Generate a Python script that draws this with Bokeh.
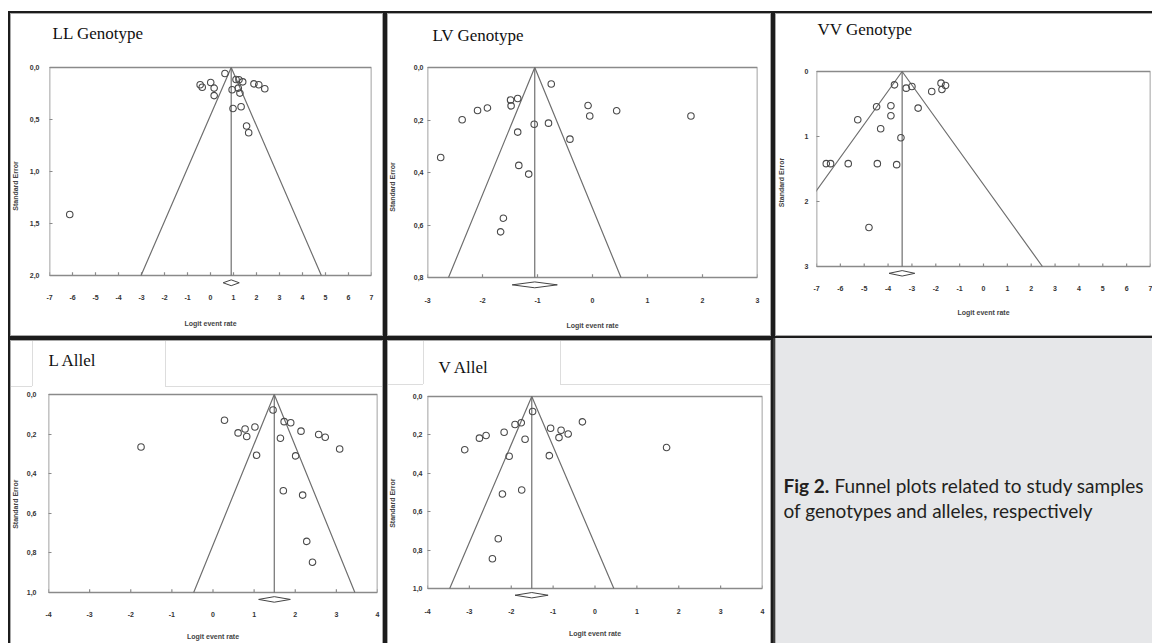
from bokeh.plotting import figure
from bokeh.layouts import row, column
from bokeh.models import Range1d, FixedTicker, Label
from bokeh.embed import file_html
from bokeh.resources import INLINE

# ---------------- data ----------------
# LL genotype
LL_logit = [0.63, -0.45, -0.36, 0.01, 0.16, 0.16, 0.94, 1.11, 1.24, 1.40,
            1.21, 1.28, 0.98, 1.33, 1.57, 1.66, 1.89, 2.10, 2.36, -6.12]
LL_se = [0.058, 0.166, 0.190, 0.144, 0.198, 0.270, 0.214, 0.115, 0.118, 0.138,
         0.198, 0.246, 0.394, 0.378, 0.563, 0.627, 0.157, 0.166, 0.205, 1.414]
LL_summary = 0.90
LL_ci = [0.55, 1.25]
LL_xticks = [-7, -6, -5, -4, -3, -2, -1, 0, 1, 2, 3, 4, 5, 6, 7]
LL_yticks = [0.0, 0.5, 1.0, 1.5, 2.0]
LL_ylabels = ["0,0", "0,5", "1,0", "1,5", "2,0"]

# LV genotype
LV_logit = [-0.75, -1.49, -1.48, -1.36, -2.09, -1.91, -2.37, -2.76, -1.36, -1.06,
            -0.80, -1.34, -1.16, -0.41, -0.08, -0.05, 0.44, 1.79, -1.62, -1.67]
LV_se = [0.063, 0.124, 0.146, 0.118, 0.164, 0.154, 0.199, 0.343, 0.246, 0.216,
         0.212, 0.373, 0.406, 0.273, 0.145, 0.185, 0.165, 0.185, 0.574, 0.626]
LV_summary = -1.05
LV_ci = [-1.46, -0.64]
LV_xticks = [-3, -2, -1, 0, 1, 2, 3]
LV_yticks = [0.0, 0.2, 0.4, 0.6, 0.8]
LV_ylabels = ["0,0", "0,2", "0,4", "0,6", "0,8"]

# VV genotype
VV_logit = [-3.73, -3.24, -3.00, -2.17, -1.78, -1.59, -1.74, -2.74, -4.48, -3.88,
            -3.88, -5.27, -4.31, -3.46, -6.59, -6.41, -5.67, -4.45, -3.64, -4.80]
VV_se = [0.205, 0.256, 0.230, 0.307, 0.179, 0.215, 0.276, 0.563, 0.543, 0.527,
         0.681, 0.742, 0.881, 1.019, 1.418, 1.418, 1.418, 1.418, 1.433, 2.400]
VV_summary = -3.41
VV_ci = [-3.96, -2.88]
VV_xticks = [-7, -6, -5, -4, -3, -2, -1, 0, 1, 2, 3, 4, 5, 6, 7]
VV_yticks = [0, 1, 2, 3]
VV_ylabels = ["0", "1", "2", "3"]

# L allele
L_logit = [1.46, 0.28, 0.61, 0.78, 0.82, 1.02, 1.06, 1.73, 1.89, 1.64,
           2.14, 2.01, 2.57, 2.73, 3.08, -1.75, 1.71, 2.18, 2.28, 2.42]
L_se = [0.078, 0.130, 0.194, 0.174, 0.212, 0.164, 0.307, 0.137, 0.143, 0.221,
        0.185, 0.310, 0.202, 0.216, 0.275, 0.265, 0.486, 0.508, 0.742, 0.847]
L_summary = 1.49
L_ci = [1.11, 1.88]
L_xticks = [-4, -3, -2, -1, 0, 1, 2, 3, 4]
L_yticks = [0.0, 0.2, 0.4, 0.6, 0.8, 1.0]
L_ylabels = ["0,0", "0,2", "0,4", "0,6", "0,8", "1,0"]

# V allele
V_logit = [-1.49, -0.30, -1.06, -0.81, -0.64, -0.86, -1.09, -1.76, -1.91, -2.17,
           -1.67, -2.60, -2.76, -3.11, -2.05, -2.21, -1.75, -2.31, -2.45, 1.71]
V_se = [0.078, 0.132, 0.165, 0.176, 0.195, 0.214, 0.308, 0.137, 0.146, 0.186,
        0.223, 0.203, 0.217, 0.277, 0.311, 0.508, 0.487, 0.741, 0.845, 0.266]
V_summary = -1.51
V_ci = [-1.91, -1.12]
V_xticks = [-4, -3, -2, -1, 0, 1, 2, 3, 4]
V_yticks = [0.0, 0.2, 0.4, 0.6, 0.8, 1.0]
V_ylabels = ["0,0", "0,2", "0,4", "0,6", "0,8", "1,0"]

TITLES = ["LL Genotype", "LV Genotype", "VV Genotype", "L Allel", "V Allel"]
X_LABEL = "Logit event rate"
Y_LABEL = "Standard Error"
CAPTION_BOLD = "Fig 2."
CAPTION_1 = "Funnel plots related to study samples"
CAPTION_2 = "of genotypes and alleles, respectively"

# ---------------- styling ----------------
Z = 1.96
FRAME_COL = "#8a8a8a"
FUNNEL_COL = "#6f6f6f"
PT_COL = "#4a4a4a"
BOTTOM_PAD_PX = 16      # room under the box for the summary diamond
SPACE_W = 0.278 * 7     # width of a space in 7px Liberation Sans Bold
NBSP = "\u00a0"


def edges(left=True, top=True, right=True, bottom=True, tab=None):
    dark, light = [], []
    for on, fmt in ((left, "inset {}px 0 0 0 {}"), (right, "inset -{}px 0 0 0 {}"),
                    (top, "inset 0 {}px 0 0 {}"), (bottom, "inset 0 -{}px 0 0 {}")):
        if on:
            dark.append(fmt.format(2, "#1c1c1c"))
            light.append(fmt.format(3, "#a8a8a8"))
    st = {"box-shadow": ", ".join(dark + light), "background-color": "white"}
    if tab is not None:
        # faint outline of the title tab (x0, x1, y, width)
        x0, x1, y, w = tab
        g = "linear-gradient(#dddddd, #dddddd)"
        st["background-image"] = ", ".join([g] * 4)
        st["background-position"] = f"0px {y}px, {x1}px {y}px, {x0}px 0px, {x1}px 0px"
        st["background-size"] = f"{x0}px 1px, {w - x1}px 1px, 1px {y}px, 1px {y}px"
        st["background-repeat"] = "no-repeat"
    return st


def funnel(title, xs, ses, summary, ci, xticks, yticks, ylabels, cfg):
    xmin, xmax = xticks[0], xticks[-1]
    se_max = yticks[-1]
    # pixel layout -> y range (frame reaches up to the panel top so the title sits inside)
    mt = 3
    fb = cfg["yse"] + BOTTOM_PAD_PX
    mb = cfg["h"] - fb
    ppu = (cfg["yse"] - cfg["y0"]) / se_max
    y_bottom = se_max + BOTTOM_PAD_PX / ppu
    y_top = -(cfg["y0"] - mt) / ppu
    p = figure(width=cfg["w"], height=cfg["h"], output_backend="svg",
               toolbar_location=None, title=None, frame_align=False,
               x_range=Range1d(xmin, xmax),
               y_range=Range1d(y_bottom, y_top),
               min_border_left=cfg["ml"], min_border_right=cfg["mr"],
               min_border_top=mt, min_border_bottom=mb)
    p.styles = cfg["styles"]
    p.background_fill_color = None
    p.border_fill_color = None
    p.outline_line_color = None
    p.xgrid.visible = False
    p.ygrid.visible = False

    # panel title
    p.add_layout(Label(x=xmin, y=-(cfg["y0"] - cfg["ty"]) / ppu, x_offset=cfg["toff"],
                       text=title, text_font="Liberation Serif", text_font_size="17px",
                       text_color="#111111", text_baseline="middle", text_align="left"))

    # plot box (axis limits)
    p.quad(left=[xmin], right=[xmax], top=[0], bottom=[se_max],
           fill_color=None, line_color=FRAME_COL, line_width=1.6)
    # x tick marks on the bottom of the box
    p.segment(x0=xticks, y0=[se_max] * len(xticks), x1=xticks,
              y1=[se_max * (1 - 0.016)] * len(xticks),
              line_color=FRAME_COL, line_width=1.2)

    # funnel
    p.line(x=[summary - Z * se_max, summary, summary + Z * se_max],
           y=[se_max, 0, se_max], line_color=FUNNEL_COL, line_width=1.2)
    p.line(x=[summary, summary], y=[0, se_max], line_color=FUNNEL_COL, line_width=1.2)

    # studies
    p.scatter(x=xs, y=ses, marker="circle", size=6.5, fill_color=None,
              line_color=PT_COL, line_width=1.1)

    # summary diamond
    yd = se_max * 1.035
    h = se_max * 0.014
    p.patch(x=[ci[0], summary, ci[1], summary], y=[yd, yd - h, yd, yd + h],
            fill_color="white", line_color="#444444", line_width=1.0)

    # axes
    xa = p.xaxis[0]
    xa.ticker = FixedTicker(ticks=xticks)
    xa.major_label_overrides = {t: str(t) for t in xticks}
    xa.axis_line_color = None
    xa.major_tick_line_color = None
    xa.major_tick_in = 0
    xa.major_tick_out = 0
    xa.minor_tick_line_color = None
    xa.minor_tick_in = 0
    xa.minor_tick_out = 0
    xa.major_label_standoff = cfg["xts"]
    xa.axis_label = X_LABEL
    xa.axis_label_standoff = cfg["xls"]

    # the y-axis label is centred on the (tall) frame; pad its end so the
    # visible words sit lower, next to the box as in the original
    frame_mid = (mt + fb) / 2.0
    n_pad = max(0, int(round(2 * (cfg["yc"] - frame_mid) / SPACE_W)))
    ya = p.yaxis[0]
    ya.ticker = FixedTicker(ticks=yticks)
    ya.major_label_overrides = dict(zip(yticks, ylabels))
    ya.axis_line_color = None
    ya.major_tick_in = 3
    ya.major_tick_out = 0
    ya.minor_tick_in = 0
    ya.minor_tick_out = 0
    ya.major_tick_line_color = FRAME_COL
    ya.minor_tick_line_color = None
    ya.major_label_standoff = cfg["yts"]
    ya.axis_label = Y_LABEL + NBSP * n_pad
    ya.axis_label_standoff = cfg["yls"]

    for ax in (xa, ya):
        ax.major_label_text_font = "Liberation Sans"
        ax.major_label_text_font_size = "7px"
        ax.major_label_text_font_style = "bold"
        ax.major_label_text_color = "#333333"
        ax.axis_label_text_font = "Liberation Sans"
        ax.axis_label_text_font_size = "7px"
        ax.axis_label_text_font_style = "bold"
        ax.axis_label_text_color = "#444444"
    return p


# layout in pixels (relative to each panel's top-left corner)
cfgs = [
    dict(w=377, h=327, ml=39, mr=14, y0=56, yse=264, ty=22, toff=3, yc=175,
         xts=3, xls=17, yts=10, yls=8, styles=edges()),
    dict(w=388, h=327, ml=41, mr=16, y0=56, yse=266, ty=24, toff=5, yc=176,
         xts=4, xls=16, yts=4, yls=15, styles=edges()),
    dict(w=379, h=327, ml=43, mr=2, y0=60, yse=255, ty=18, toff=1, yc=171,
         xts=3, xls=15, yts=8, yls=17, styles=edges(right=False)),
    dict(w=377, h=305, ml=40, mr=8, y0=56, yse=254, ty=22, toff=0, yc=166,
         xts=3, xls=13, yts=12, yls=5, styles=edges(bottom=False, tab=(24, 157, 48, 377))),
    dict(w=388, h=305, ml=41, mr=11, y0=58, yse=250, ty=29, toff=11, yc=165,
         xts=4, xls=13, yts=5, yls=14, styles=edges(bottom=False, tab=(38, 175, 46, 388))),
]

p1 = funnel(TITLES[0], LL_logit, LL_se, LL_summary, LL_ci, LL_xticks, LL_yticks, LL_ylabels, cfgs[0])
p2 = funnel(TITLES[1], LV_logit, LV_se, LV_summary, LV_ci, LV_xticks, LV_yticks, LV_ylabels, cfgs[1])
p3 = funnel(TITLES[2], VV_logit, VV_se, VV_summary, VV_ci, VV_xticks, VV_yticks, VV_ylabels, cfgs[2])
p4 = funnel(TITLES[3], L_logit, L_se, L_summary, L_ci, L_xticks, L_yticks, L_ylabels, cfgs[3])
p5 = funnel(TITLES[4], V_logit, V_se, V_summary, V_ci, V_xticks, V_yticks, V_ylabels, cfgs[4])

# caption panel
CW, CH = 379, 305
p6 = figure(width=CW, height=CH, output_backend="svg", toolbar_location=None,
            title=None, frame_align=False,
            x_range=Range1d(0, CW), y_range=Range1d(0, CH),
            x_axis_type=None, y_axis_type=None,
            min_border=0, min_border_left=0, min_border_right=0,
            min_border_top=0, min_border_bottom=0)
p6.styles = {"box-shadow": "inset 2px 0 0 0 #3a3a3a, inset 3px 0 0 0 #b0b0b0",
             "background-color": "#e6e7e9"}
p6.background_fill_color = None
p6.border_fill_color = None
p6.outline_line_color = None
p6.xgrid.visible = False
p6.ygrid.visible = False
cap_style = dict(text_font="Lato", text_font_size="19px", text_color="#231f20",
                 text_baseline="middle", text_align="left")
p6.add_layout(Label(x=10, y=158, text=CAPTION_BOLD, text_font_style="bold", **cap_style))
p6.add_layout(Label(x=61, y=158, text=CAPTION_1, **cap_style))
p6.add_layout(Label(x=10, y=133, text=CAPTION_2, **cap_style))

layout = column(row(p1, p2, p3), row(p4, p5, p6), margin=(11, 0, 0, 8))
open("out.html", "w").write(file_html(layout, INLINE))
